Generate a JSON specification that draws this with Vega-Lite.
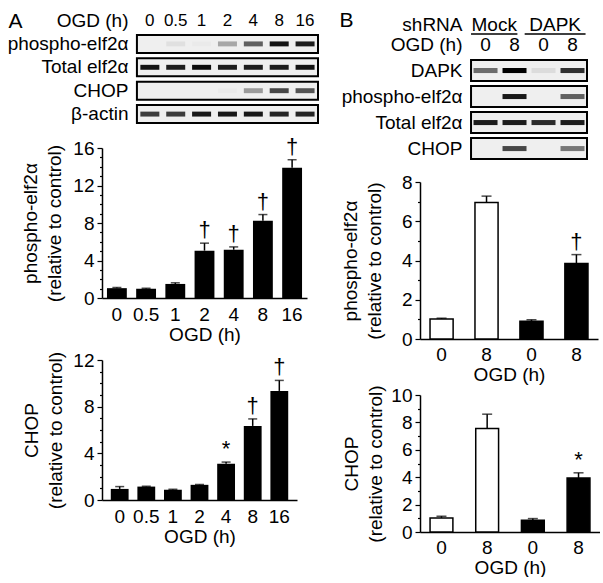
{
  "$schema": "https://vega.github.io/schema/vega-lite/v6.json",
  "padding": {"left": 7, "top": 6, "right": 0, "bottom": 0},
  "background": "white",
  "config": {
    "font": "Liberation Sans",
    "view": {"stroke": null},
    "axis": {"labelFontSize": 19, "titleFontSize": 19, "labelColor": "#000", "titleColor": "#000", "titleFontWeight": "normal", "domainColor": "#000", "tickColor": "#000", "domainWidth": 1.5, "tickWidth": 1.2, "grid": false, "labelOverlap": false},
    "text": {"color": "#000"}
  },
  "datasets": {
    "blotA_rows": [{"row": "phospho-elf2α"}, {"row": "Total elf2α"}, {"row": "CHOP"}, {"row": "β-actin"}],
    "lanesA": [
      {"row": "OGD (h)", "lane": 1, "label": "0"}, {"row": "OGD (h)", "lane": 2, "label": "0.5"}, {"row": "OGD (h)", "lane": 3, "label": "1"},
      {"row": "OGD (h)", "lane": 4, "label": "2"}, {"row": "OGD (h)", "lane": 5, "label": "4"}, {"row": "OGD (h)", "lane": 6, "label": "8"}, {"row": "OGD (h)", "lane": 7, "label": "16"}
    ],
    "bandsA": [
      {"row": "phospho-elf2α", "lane": 1, "intensity": 0}, {"row": "phospho-elf2α", "lane": 2, "intensity": 0.06}, {"row": "phospho-elf2α", "lane": 3, "intensity": 0.02}, {"row": "phospho-elf2α", "lane": 4, "intensity": 0.3}, {"row": "phospho-elf2α", "lane": 5, "intensity": 0.6}, {"row": "phospho-elf2α", "lane": 6, "intensity": 0.92}, {"row": "phospho-elf2α", "lane": 7, "intensity": 0.88},
      {"row": "Total elf2α", "lane": 1, "intensity": 0.92}, {"row": "Total elf2α", "lane": 2, "intensity": 0.88}, {"row": "Total elf2α", "lane": 3, "intensity": 0.95}, {"row": "Total elf2α", "lane": 4, "intensity": 0.88}, {"row": "Total elf2α", "lane": 5, "intensity": 0.88}, {"row": "Total elf2α", "lane": 6, "intensity": 0.88}, {"row": "Total elf2α", "lane": 7, "intensity": 0.92},
      {"row": "CHOP", "lane": 1, "intensity": 0}, {"row": "CHOP", "lane": 2, "intensity": 0}, {"row": "CHOP", "lane": 3, "intensity": 0}, {"row": "CHOP", "lane": 4, "intensity": 0.02}, {"row": "CHOP", "lane": 5, "intensity": 0.35}, {"row": "CHOP", "lane": 6, "intensity": 0.7}, {"row": "CHOP", "lane": 7, "intensity": 0.65},
      {"row": "β-actin", "lane": 1, "intensity": 0.75}, {"row": "β-actin", "lane": 2, "intensity": 0.75}, {"row": "β-actin", "lane": 3, "intensity": 0.9}, {"row": "β-actin", "lane": 4, "intensity": 0.9}, {"row": "β-actin", "lane": 5, "intensity": 0.9}, {"row": "β-actin", "lane": 6, "intensity": 0.85}, {"row": "β-actin", "lane": 7, "intensity": 0.85}
    ],
    "blotB_rows": [{"row": "DAPK"}, {"row": "phospho-elf2α"}, {"row": "Total elf2α"}, {"row": "CHOP"}],
    "lanesB": [
      {"row": "OGD (h)", "lane": 1, "label": "0"}, {"row": "OGD (h)", "lane": 2, "label": "8"}, {"row": "OGD (h)", "lane": 3, "label": "0"}, {"row": "OGD (h)", "lane": 4, "label": "8"}
    ],
    "groupsB": [{"row": "shRNA", "lane": 1.3, "label": "Mock"}, {"row": "shRNA", "lane": 3.4, "label": "DAPK"}],
    "underlinesB": [{"row": "OGD (h)", "from": 0.5, "to": 2.1}, {"row": "OGD (h)", "from": 2.35, "to": 4.45}],
    "bandsB": [
      {"row": "DAPK", "lane": 1, "intensity": 0.55}, {"row": "DAPK", "lane": 2, "intensity": 1.0}, {"row": "DAPK", "lane": 3, "intensity": 0.08}, {"row": "DAPK", "lane": 4, "intensity": 0.8},
      {"row": "phospho-elf2α", "lane": 1, "intensity": 0}, {"row": "phospho-elf2α", "lane": 2, "intensity": 0.9}, {"row": "phospho-elf2α", "lane": 3, "intensity": 0}, {"row": "phospho-elf2α", "lane": 4, "intensity": 0.6},
      {"row": "Total elf2α", "lane": 1, "intensity": 0.88}, {"row": "Total elf2α", "lane": 2, "intensity": 0.88}, {"row": "Total elf2α", "lane": 3, "intensity": 0.82}, {"row": "Total elf2α", "lane": 4, "intensity": 0.88},
      {"row": "CHOP", "lane": 1, "intensity": 0}, {"row": "CHOP", "lane": 2, "intensity": 0.7}, {"row": "CHOP", "lane": 3, "intensity": 0}, {"row": "CHOP", "lane": 4, "intensity": 0.5}
    ],
    "phosA": [
      {"t": "0", "mean": 1.05, "hi": 1.12, "sig": ""}, {"t": "0.5", "mean": 1.0, "hi": 1.04, "sig": ""}, {"t": "1", "mean": 1.5, "hi": 1.62, "sig": ""},
      {"t": "2", "mean": 5.05, "hi": 5.85, "sig": "†"}, {"t": "4", "mean": 5.15, "hi": 5.45, "sig": "†"}, {"t": "8", "mean": 8.25, "hi": 8.9, "sig": "†"}, {"t": "16", "mean": 13.9, "hi": 14.75, "sig": "†"}
    ],
    "chopA": [
      {"t": "0", "mean": 0.95, "hi": 1.15, "sig": ""}, {"t": "0.5", "mean": 1.15, "hi": 1.18, "sig": ""}, {"t": "1", "mean": 0.88, "hi": 0.92, "sig": ""},
      {"t": "2", "mean": 1.3, "hi": 1.33, "sig": ""}, {"t": "4", "mean": 3.1, "hi": 3.25, "sig": "*"}, {"t": "8", "mean": 6.35, "hi": 6.95, "sig": "†"}, {"t": "16", "mean": 9.35, "hi": 10.25, "sig": "†"}
    ],
    "phosB": [
      {"lane": "Mock 0", "group": "Mock", "mean": 1.02, "hi": 1.06, "sig": ""}, {"lane": "Mock 8", "group": "Mock", "mean": 6.95, "hi": 7.28, "sig": ""},
      {"lane": "DAPK 0", "group": "DAPK", "mean": 0.9, "hi": 0.98, "sig": ""}, {"lane": "DAPK 8", "group": "DAPK", "mean": 3.85, "hi": 4.3, "sig": "†"}
    ],
    "chopB": [
      {"lane": "Mock 0", "group": "Mock", "mean": 1.03, "hi": 1.15, "sig": ""}, {"lane": "Mock 8", "group": "Mock", "mean": 7.55, "hi": 8.6, "sig": ""},
      {"lane": "DAPK 0", "group": "DAPK", "mean": 0.85, "hi": 0.98, "sig": ""}, {"lane": "DAPK 8", "group": "DAPK", "mean": 3.95, "hi": 4.32, "sig": "*"}
    ]
  },
  "concat": [
    {
      "concat": [
        {
          "width": 216, "height": 121.1,
          "layer": [
            {
              "data": {"name": "blotA_rows"},
              "mark": {"type": "rect", "fill": "#efefef", "stroke": "#000", "strokeWidth": 2},
              "encoding": {
                "y": {"field": "row", "type": "nominal",
                  "scale": {"domain": ["OGD (h)", "phospho-elf2α", "Total elf2α", "CHOP", "β-actin"], "paddingInner": 0.23, "paddingOuter": 0.203, "align": 0.579},
                  "axis": {"title": "A", "titleAngle": 0, "titleAlign": "left", "titleBaseline": "middle", "titleX": -122, "titleY": 15, "titleFontSize": 21, "labelFontSize": 19, "labelPadding": 2, "ticks": false, "tickSize": 0, "domain": false, "offset": -28}},
                "x": {"datum": 0.5, "type": "quantitative", "scale": {"domain": [-0.85, 7.5], "nice": false, "zero": false}, "axis": null},
                "x2": {"datum": 7.5}
              }
            },
            {
              "data": {"name": "lanesA"},
              "mark": {"type": "text", "fontSize": 17},
              "encoding": {
                "x": {"field": "lane", "type": "quantitative"},
                "y": {"field": "row", "type": "nominal"},
                "text": {"field": "label"}
              }
            },
            {
              "data": {"name": "bandsA"},
              "mark": {"type": "point", "shape": "M-1,-0.26L1,-0.26L1,0.26L-1,0.26Z", "filled": true, "size": 361, "color": "#000", "strokeWidth": 0},
              "encoding": {
                "x": {"field": "lane", "type": "quantitative"},
                "y": {"field": "row", "type": "nominal"},
                "opacity": {"field": "intensity", "type": "quantitative", "scale": {"domain": [0, 1], "range": [0, 1]}, "legend": null}
              }
            }
          ]
        },
        {
          "width": 205, "height": 150,
          "data": {"name": "phosA"},
          "encoding": {
            "x": {"field": "t", "type": "nominal", "scale": {"domain": ["0", "0.5", "1", "2", "4", "8", "16"], "paddingInner": 0.32, "paddingOuter": 0.17},
              "axis": {"title": "OGD (h)", "labelAngle": 0, "ticks": false, "tickSize": 0, "labelPadding": 7, "titlePadding": 1}}
          },
          "layer": [
            {
              "mark": {"type": "bar", "color": "#000"},
              "encoding": {
                "y": {"field": "mean", "type": "quantitative", "scale": {"domain": [0, 16], "nice": false},
                  "axis": {"title": ["phospho-elf2α", "(relative to control)"], "values": [0,1,2,3,4,5,6,7,8,9,10,11,12,13,14,15,16], "tickCount": 100, "format": "d",
                    "labelExpr": "datum.value % 4 === 0 ? datum.label : ''", "labelOverlap": false,
                    "tickSize": {"condition": {"test": "datum.value % 4 === 0", "value": 5}, "value": 2.5},
                    "labelPadding": 3, "titlePadding": 8, "titleLineHeight": 24}}
              }
            },
            {"mark": {"type": "rule", "color": "#000", "strokeWidth": 1.5}, "encoding": {"y": {"field": "mean", "type": "quantitative"}, "y2": {"field": "hi"}}},
            {"mark": {"type": "tick", "color": "#000", "size": 9, "thickness": 1.5}, "encoding": {"y": {"field": "hi", "type": "quantitative"}}},
            {"mark": {"type": "text", "baseline": "bottom", "dy": -1, "fontSize": 22}, "encoding": {"y": {"field": "hi", "type": "quantitative"}, "text": {"field": "sig"}}}
          ]
        },
        {
          "width": 195, "height": 140,
          "data": {"name": "chopA"},
          "encoding": {
            "x": {"field": "t", "type": "nominal", "scale": {"domain": ["0", "0.5", "1", "2", "4", "8", "16"], "paddingInner": 0.33, "paddingOuter": 0.33},
              "axis": {"title": "OGD (h)", "labelAngle": 0, "ticks": false, "tickSize": 0, "labelPadding": 7, "titlePadding": 1}}
          },
          "layer": [
            {
              "mark": {"type": "bar", "color": "#000"},
              "encoding": {
                "y": {"field": "mean", "type": "quantitative", "scale": {"domain": [0, 12], "nice": false},
                  "axis": {"title": ["CHOP", "(relative to control)"], "values": [0,1,2,3,4,5,6,7,8,9,10,11,12], "tickCount": 100, "format": "d",
                    "labelExpr": "datum.value % 4 === 0 ? datum.label : ''", "labelOverlap": false,
                    "tickSize": {"condition": {"test": "datum.value % 4 === 0", "value": 5}, "value": 2.5},
                    "labelPadding": 3, "titlePadding": 7, "titleLineHeight": 24}}
              }
            },
            {"mark": {"type": "rule", "color": "#000", "strokeWidth": 1.5}, "encoding": {"y": {"field": "mean", "type": "quantitative"}, "y2": {"field": "hi"}}},
            {"mark": {"type": "tick", "color": "#000", "size": 9, "thickness": 1.5}, "encoding": {"y": {"field": "hi", "type": "quantitative"}}},
            {"mark": {"type": "text", "baseline": "bottom", "dy": -1, "fontSize": 22}, "encoding": {"y": {"field": "hi", "type": "quantitative"}, "text": {"field": "sig"}}}
          ]
        }
      ],
      "columns": 1,
      "spacing": 7,
      "align": {"row": "none", "column": "each"}
    },
    {
      "concat": [
        {
          "width": 167, "height": 166,
          "layer": [
            {
              "data": {"name": "blotB_rows"},
              "mark": {"type": "rect", "fill": "#efefef", "stroke": "#000", "strokeWidth": 2},
              "encoding": {
                "y": {"field": "row", "type": "nominal",
                  "scale": {"domain": ["shRNA", "OGD (h)", "DAPK", "phospho-elf2α", "Total elf2α", "CHOP"], "paddingInner": 0.19, "paddingOuter": 0.2865, "align": 0.134},
                  "axis": {"title": "B", "titleAngle": 0, "titleAlign": "left", "titleBaseline": "middle", "titleX": -125, "titleY": 14.5, "titleFontSize": 21, "labelFontSize": 19, "labelPadding": 2, "ticks": false, "tickSize": 0, "domain": false, "offset": -44,
                    "labelOffset": {"condition": {"test": "datum.value === 'shRNA'", "value": 6}, "value": 0}}},
                "x": {"datum": 0.5, "type": "quantitative", "scale": {"domain": [-1.26, 4.5], "nice": false, "zero": false}, "axis": null},
                "x2": {"datum": 4.5}
              }
            },
            {
              "data": {"name": "lanesB"},
              "mark": {"type": "text", "fontSize": 19},
              "encoding": {
                "x": {"field": "lane", "type": "quantitative"},
                "y": {"field": "row", "type": "nominal"},
                "text": {"field": "label"}
              }
            },
            {
              "data": {"name": "groupsB"},
              "mark": {"type": "text", "fontSize": 19, "dy": 6},
              "encoding": {
                "x": {"field": "lane", "type": "quantitative"},
                "y": {"field": "row", "type": "nominal"},
                "text": {"field": "label"}
              }
            },
            {
              "data": {"name": "underlinesB"},
              "mark": {"type": "rule", "color": "#000", "strokeWidth": 1.5},
              "encoding": {
                "x": {"field": "from", "type": "quantitative"},
                "x2": {"field": "to"},
                "y": {"field": "row", "type": "nominal", "bandPosition": 0}
              }
            },
            {
              "data": {"name": "bandsB"},
              "mark": {"type": "point", "shape": "M-1,-0.21L1,-0.21L1,0.21L-1,0.21Z", "filled": true, "size": 576, "color": "#000", "strokeWidth": 0},
              "encoding": {
                "x": {"field": "lane", "type": "quantitative"},
                "y": {"field": "row", "type": "nominal"},
                "opacity": {"field": "intensity", "type": "quantitative", "scale": {"domain": [0, 1], "range": [0, 1]}, "legend": null}
              }
            }
          ]
        },
        {
          "width": 178, "height": 157,
          "data": {"name": "phosB"},
          "encoding": {
            "x": {"field": "lane", "type": "nominal", "scale": {"domain": ["Mock 0", "Mock 8", "DAPK 0", "DAPK 8"], "paddingInner": 0.486, "paddingOuter": 0.223},
              "axis": {"title": "OGD (h)", "labelAngle": 0, "ticks": false, "tickSize": 0, "labelPadding": 6, "titlePadding": 1, "labelExpr": "split(datum.label, ' ')[1]"}}
          },
          "layer": [
            {
              "mark": {"type": "bar", "stroke": "#000", "strokeWidth": 1.5},
              "encoding": {
                "y": {"field": "mean", "type": "quantitative", "scale": {"domain": [0, 8], "nice": false},
                  "axis": {"title": ["phospho-elf2α", "(relative to control)"], "values": [0,1,2,3,4,5,6,7,8], "tickCount": 100, "format": "d",
                    "labelExpr": "datum.value % 2 === 0 ? datum.label : ''", "labelOverlap": false,
                    "tickSize": {"condition": {"test": "datum.value % 2 === 0", "value": 5}, "value": 2.5},
                    "labelPadding": 3, "titlePadding": 17, "titleLineHeight": 24}},
                "color": {"field": "group", "type": "nominal", "scale": {"domain": ["Mock", "DAPK"], "range": ["#ffffff", "#000000"]}, "legend": null}
              }
            },
            {"mark": {"type": "rule", "color": "#000", "strokeWidth": 1.5}, "encoding": {"y": {"field": "mean", "type": "quantitative"}, "y2": {"field": "hi"}}},
            {"mark": {"type": "tick", "color": "#000", "size": 10, "thickness": 1.5}, "encoding": {"y": {"field": "hi", "type": "quantitative"}}},
            {"mark": {"type": "text", "baseline": "bottom", "dy": -1, "fontSize": 22}, "encoding": {"y": {"field": "hi", "type": "quantitative"}, "text": {"field": "sig"}}}
          ]
        },
        {
          "width": 180, "height": 137,
          "data": {"name": "chopB"},
          "encoding": {
            "x": {"field": "lane", "type": "nominal", "scale": {"domain": ["Mock 0", "Mock 8", "DAPK 0", "DAPK 8"], "paddingInner": 0.5, "paddingOuter": 0.22},
              "axis": {"title": "OGD (h)", "labelAngle": 0, "ticks": false, "tickSize": 0, "labelPadding": 6, "titlePadding": 1, "labelExpr": "split(datum.label, ' ')[1]"}}
          },
          "layer": [
            {
              "mark": {"type": "bar", "stroke": "#000", "strokeWidth": 1.5},
              "encoding": {
                "y": {"field": "mean", "type": "quantitative", "scale": {"domain": [0, 10], "nice": false},
                  "axis": {"title": ["CHOP", "(relative to control)"], "values": [0,1,2,3,4,5,6,7,8,9,10], "tickCount": 100, "format": "d",
                    "labelExpr": "datum.value % 2 === 0 ? datum.label : ''", "labelOverlap": false,
                    "tickSize": {"condition": {"test": "datum.value % 2 === 0", "value": 5}, "value": 2.5},
                    "labelPadding": 3, "titlePadding": 5, "titleLineHeight": 24}},
                "color": {"field": "group", "type": "nominal", "scale": {"domain": ["Mock", "DAPK"], "range": ["#ffffff", "#000000"]}, "legend": null}
              }
            },
            {"mark": {"type": "rule", "color": "#000", "strokeWidth": 1.5}, "encoding": {"y": {"field": "mean", "type": "quantitative"}, "y2": {"field": "hi"}}},
            {"mark": {"type": "tick", "color": "#000", "size": 10, "thickness": 1.5}, "encoding": {"y": {"field": "hi", "type": "quantitative"}}},
            {"mark": {"type": "text", "baseline": "bottom", "dy": -1, "fontSize": 22}, "encoding": {"y": {"field": "hi", "type": "quantitative"}, "text": {"field": "sig"}}}
          ]
        }
      ],
      "columns": 1,
      "spacing": 0,
      "align": {"row": "none", "column": "each"}
    }
  ],
  "columns": 2,
  "spacing": 20,
  "align": "none"
}
